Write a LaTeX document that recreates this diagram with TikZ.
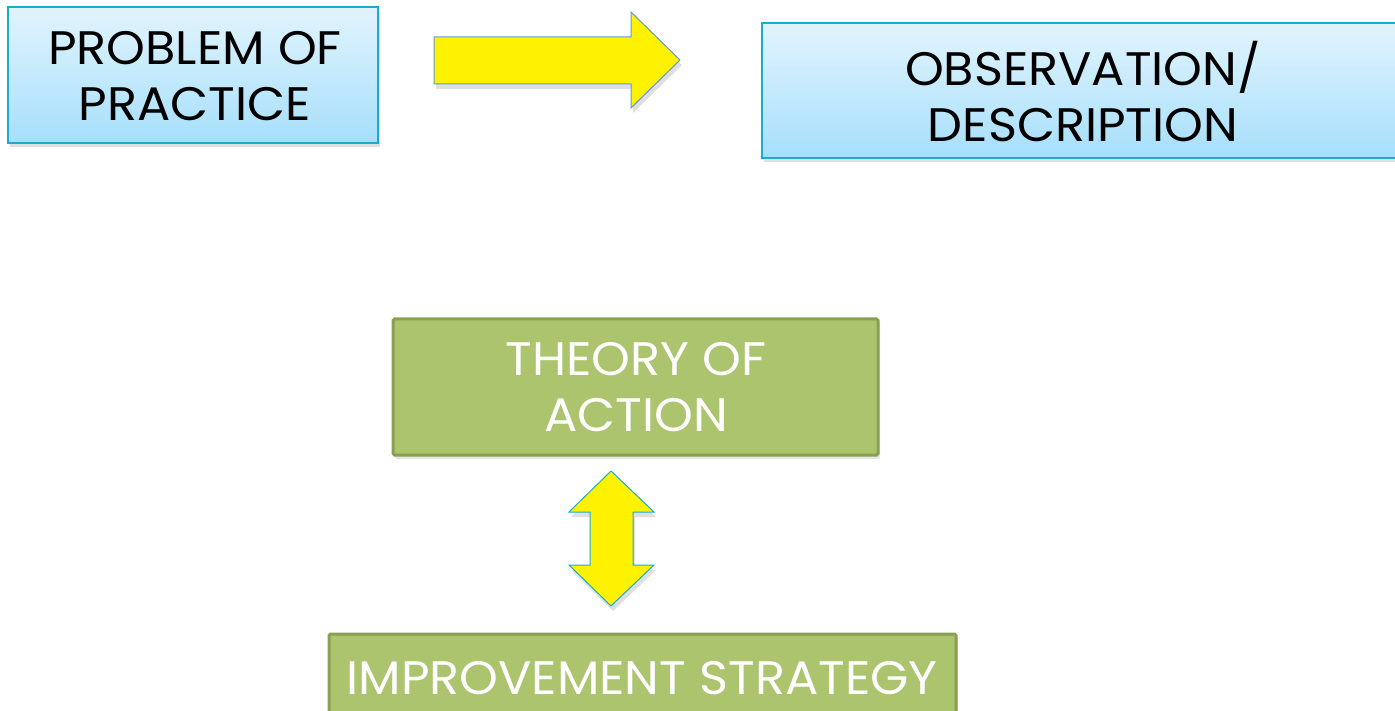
\documentclass[tikz,border=0pt]{standalone}
\usepackage{fontspec}
\setmainfont[FakeStretch=1.05]{Poppins}
\usetikzlibrary{shadows,fadings}
\definecolor{bluetop}{HTML}{E2F4FD}
\definecolor{bluebot}{HTML}{A6DFFB}
\definecolor{blueedge}{HTML}{1AABD4}
\definecolor{greenfill}{HTML}{ABC46D}
\definecolor{greenedge}{HTML}{88A050}
\definecolor{arrowedge}{HTML}{5B9BD5}
\tikzset{
  bluebox/.style={draw=blueedge, line width=1.5pt, top color=bluetop, bottom color=bluebot,
    drop shadow={shadow xshift=2pt, shadow yshift=-4pt, opacity=0.25}},
  greenbox/.style={draw=greenedge, line width=3pt, fill=greenfill, rounded corners=1.5pt,
    drop shadow={shadow xshift=2pt, shadow yshift=-4pt, opacity=0.2}},
  yarrow/.style={fill=yellow, line width=1pt, line join=miter,
    drop shadow={shadow xshift=2pt, shadow yshift=-5pt, opacity=0.25}},
  lbl/.style={font=\fontsize{47}{56}\selectfont, align=center, inner sep=0pt},
}
\begin{document}
\begin{tikzpicture}[x=1pt,y=-1pt]
\useasboundingbox (0,0) rectangle (1395,711);
% boxes
\path[bluebox] (8,7) rectangle (378,143);
\path[bluebox] (762,23) rectangle (1420,158);
\path[greenbox] (393,319) rectangle (878,455);
\path[greenbox] (329,634) rectangle (956,740);
% labels
\node[lbl, text=black] (pop) at (195,76) {PROBLEM OF\\PRACTICE};
\node[lbl, text=black] (obs) at (1083,92) {OBSERVATION/\\DESCRIPTION};
\node[lbl, text=white] (toa) at (636,387) {THEORY OF\\ACTION};
\node[lbl, text=white] (imp) at (642,678) {IMPROVEMENT STRATEGY};
% right arrow
\path[yarrow, draw=arrowedge] (434,37) -- (631,37) -- (631,12) -- (680,60) -- (631,108) -- (631,84) -- (434,84) -- cycle;
% double arrow
\path[yarrow, draw=blueedge] (611,471) -- (654,512) -- (633,512) -- (633,565) -- (654,565) -- (611,606) -- (569,565) -- (590,565) -- (590,512) -- (569,512) -- cycle;
\end{tikzpicture}
\end{document}
